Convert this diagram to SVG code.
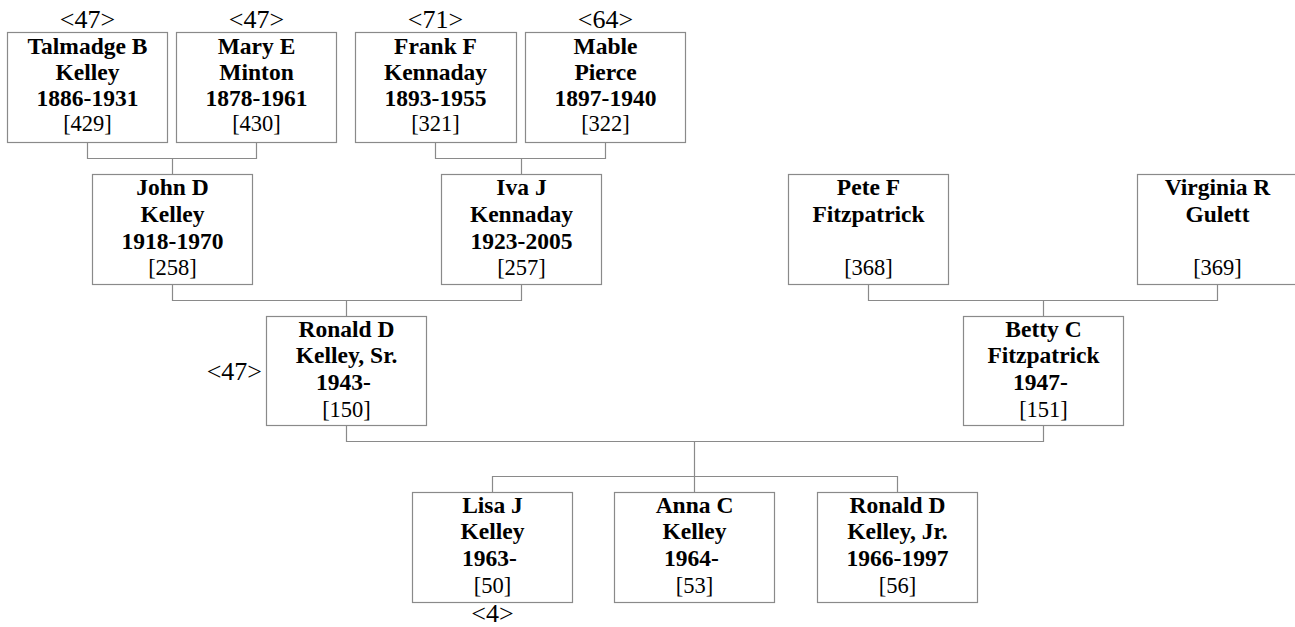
<svg xmlns="http://www.w3.org/2000/svg" width="1295" height="627" viewBox="0 0 1295 627">
<style>
.box{fill:#fff;stroke:#8a8a8a;stroke-width:1.2}
.ln{fill:none;stroke:#8a8a8a;stroke-width:1.2}
text{font-family:"Liberation Serif","Times New Roman",serif;fill:#000;text-anchor:middle}
.b{font-weight:bold;font-size:23.5px}
.n{font-size:22.5px}
.lab{font-size:26px}
</style>
<rect width="1295" height="627" fill="#fff"/>
<g id="connectors">
<path class="ln" d="M87.5,143V158.5H256.5V143M172.5,158.5V174"/>
<path class="ln" d="M435.5,143V158.5H605.5V143M521.5,158.5V174"/>
<path class="ln" d="M172.5,284V300.5H521.5V284M346.5,300.5V316"/>
<path class="ln" d="M868.5,284V300.5H1217.5V284M1043.5,300.5V316"/>
<path class="ln" d="M346.5,425V441.5H1043.5V425M694.5,441.5V492"/>
<path class="ln" d="M492.5,492V476.5H897.5V492"/>
</g>
<g id="n429">
<text class="lab" x="87.5" y="28">&lt;47&gt;</text>
<rect class="box" x="7.5" y="32.5" width="160" height="110"/>
<text class="b" x="87.5" y="54">Talmadge B</text>
<text class="b" x="87.5" y="80">Kelley</text>
<text class="b" x="87.5" y="106">1886-1931</text>
<text class="n" x="87.5" y="131">[429]</text>
</g>
<g id="n430">
<text class="lab" x="256.5" y="28">&lt;47&gt;</text>
<rect class="box" x="176.5" y="32.5" width="160" height="110"/>
<text class="b" x="256.5" y="54">Mary E</text>
<text class="b" x="256.5" y="80">Minton</text>
<text class="b" x="256.5" y="106">1878-1961</text>
<text class="n" x="256.5" y="131">[430]</text>
</g>
<g id="n321">
<text class="lab" x="435.5" y="28">&lt;71&gt;</text>
<rect class="box" x="355.5" y="32.5" width="161" height="110"/>
<text class="b" x="435.5" y="54">Frank F</text>
<text class="b" x="435.5" y="80">Kennaday</text>
<text class="b" x="435.5" y="106">1893-1955</text>
<text class="n" x="435.5" y="131">[321]</text>
</g>
<g id="n322">
<text class="lab" x="605.5" y="28">&lt;64&gt;</text>
<rect class="box" x="525.5" y="32.5" width="160" height="110"/>
<text class="b" x="605.5" y="54">Mable</text>
<text class="b" x="605.5" y="80">Pierce</text>
<text class="b" x="605.5" y="106">1897-1940</text>
<text class="n" x="605.5" y="131">[322]</text>
</g>
<g id="n258">
<rect class="box" x="92.5" y="174.5" width="160" height="110"/>
<text class="b" x="172.5" y="195">John D</text>
<text class="b" x="172.5" y="222">Kelley</text>
<text class="b" x="172.5" y="249">1918-1970</text>
<text class="n" x="172.5" y="275">[258]</text>
</g>
<g id="n257">
<rect class="box" x="441.5" y="174.5" width="160" height="110"/>
<text class="b" x="521.5" y="195">Iva J</text>
<text class="b" x="521.5" y="222">Kennaday</text>
<text class="b" x="521.5" y="249">1923-2005</text>
<text class="n" x="521.5" y="275">[257]</text>
</g>
<g id="n368">
<rect class="box" x="788.5" y="174.5" width="160" height="110"/>
<text class="b" x="868.5" y="195">Pete F</text>
<text class="b" x="868.5" y="222">Fitzpatrick</text>
<text class="n" x="868.5" y="275">[368]</text>
</g>
<g id="n369">
<rect class="box" x="1137.5" y="174.5" width="160" height="110"/>
<text class="b" x="1217.5" y="195">Virginia R</text>
<text class="b" x="1217.5" y="222">Gulett</text>
<text class="n" x="1217.5" y="275">[369]</text>
</g>
<g id="n150">
<text class="lab" x="262" y="380" style="text-anchor:end">&lt;47&gt;</text>
<rect class="box" x="266.5" y="316.5" width="160" height="109"/>
<text class="b" x="346.5" y="337">Ronald D</text>
<text class="b" x="346.5" y="363">Kelley, Sr.</text>
<text class="b" x="343.5" y="390">1943-</text>
<text class="n" x="346.5" y="417">[150]</text>
</g>
<g id="n151">
<rect class="box" x="963.5" y="316.5" width="160" height="109"/>
<text class="b" x="1043.5" y="337">Betty C</text>
<text class="b" x="1043.5" y="363">Fitzpatrick</text>
<text class="b" x="1040.5" y="390">1947-</text>
<text class="n" x="1043.5" y="417">[151]</text>
</g>
<g id="n50">
<rect class="box" x="412.5" y="492.5" width="160" height="110"/>
<text class="b" x="492.5" y="513">Lisa J</text>
<text class="b" x="492.5" y="539">Kelley</text>
<text class="b" x="489.5" y="566">1963-</text>
<text class="n" x="492.5" y="593">[50]</text>
<text class="lab" x="492.5" y="622">&lt;4&gt;</text>
</g>
<g id="n53">
<rect class="box" x="614.5" y="492.5" width="160" height="110"/>
<text class="b" x="694.5" y="513">Anna C</text>
<text class="b" x="694.5" y="539">Kelley</text>
<text class="b" x="691.5" y="566">1964-</text>
<text class="n" x="694.5" y="593">[53]</text>
</g>
<g id="n56">
<rect class="box" x="817.5" y="492.5" width="160" height="110"/>
<text class="b" x="897.5" y="513">Ronald D</text>
<text class="b" x="897.5" y="539">Kelley, Jr.</text>
<text class="b" x="897.5" y="566">1966-1997</text>
<text class="n" x="897.5" y="593">[56]</text>
</g>
</svg>
